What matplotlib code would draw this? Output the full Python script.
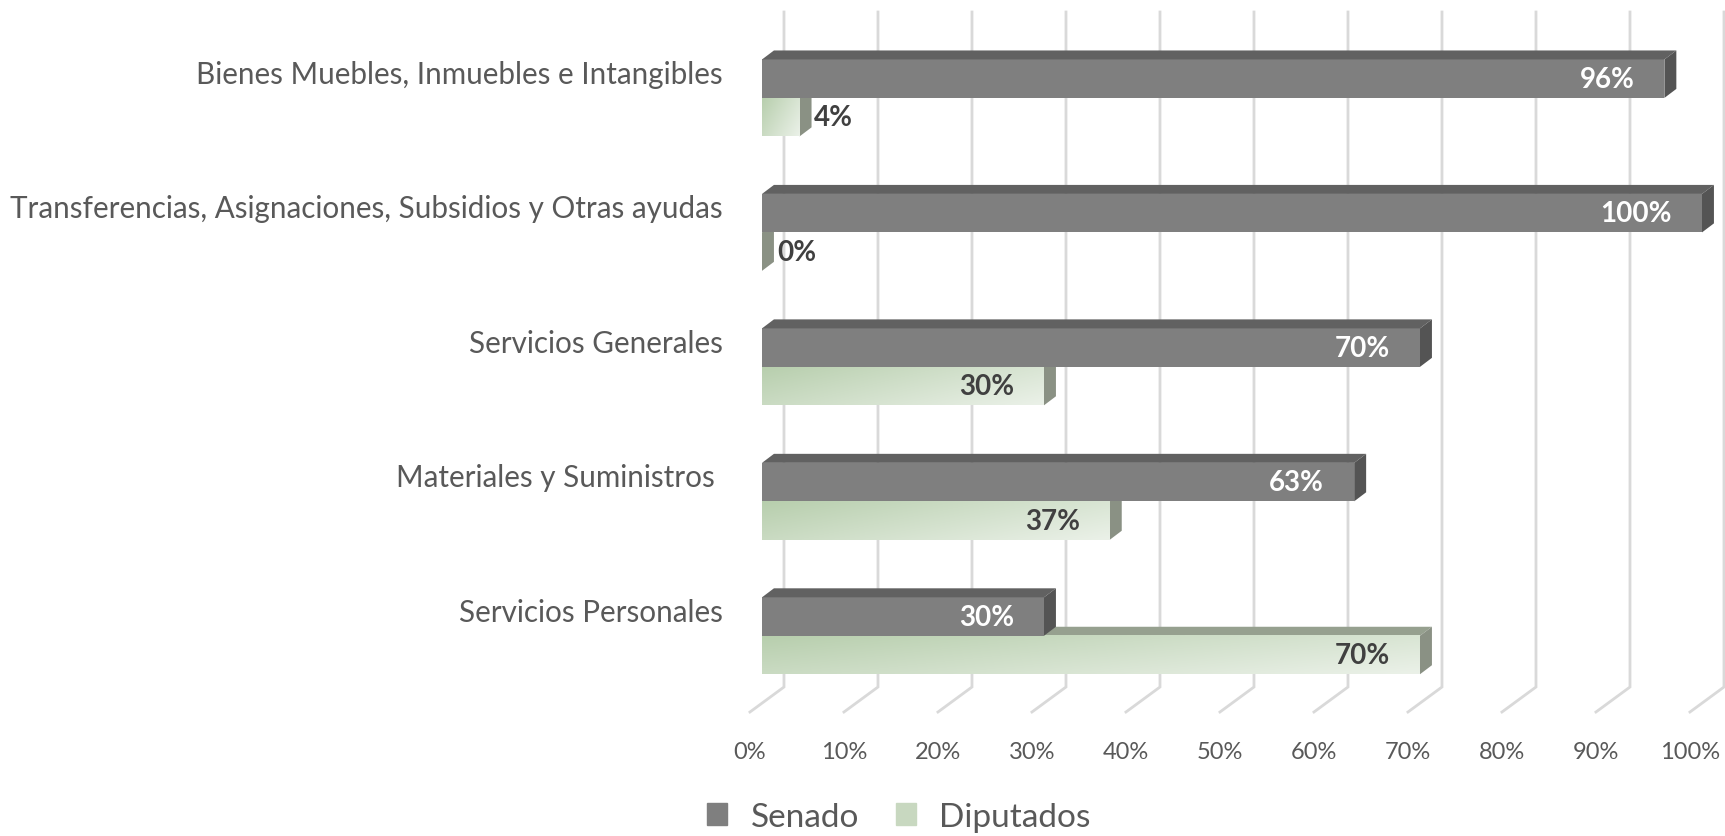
import numpy as np
import matplotlib
matplotlib.use("Agg")
import matplotlib.pyplot as plt
from matplotlib.patches import Patch

# data, bottom to top (as drawn)
categories = ["Servicios Personales", "Materiales y Suministros ", "Servicios Generales",
              "Transferencias, Asignaciones, Subsidios y Otras ayudas",
              "Bienes Muebles, Inmuebles e Intangibles"]
senado = [30, 63, 70, 100, 96]
diputados = [70, 37, 30, 0, 4]
ticks = [0, 10, 20, 30, 40, 50, 60, 70, 80, 90, 100]
tick_labels = [f"{t}%" for t in ticks]

FONT = "Lato"
TXT = "#595959"

# pseudo-3d depth offsets (data units); 9.4 px per % and 134.5 px per category
BX, BY = 1.27, 0.067        # bar depth
FX, FY = -1.28, -0.067      # floor front edge relative to bar front plane
WX, WY = 2.34, 0.119        # back wall relative to bar front plane
H = 0.286                   # bar thickness

fig = plt.figure(figsize=(17.25, 8.37), dpi=100)
ax = fig.add_axes([762 / 1725, (837 - 704) / 837, 940 / 1725, (704 - 29) / 837])
ax.set_xlim(0, 100)
ax.set_ylim(-0.5, 4.52)
ax.axis("off")

# back wall gridlines + floor lines
ybot = -0.5
for t, lab in zip(ticks, tick_labels):
    ax.plot([t + WX, t + WX, t + FX], [4.52 + WY, ybot + WY, ybot + FY],
            color="#d9d9d9", lw=2, clip_on=False, zorder=1, solid_joinstyle="miter")
    ax.text(t + FX, -0.857, lab, ha="center", va="center", fontsize=17,
            color=TXT, family=FONT)

# diagonal gradient for the Diputados front face (greener top-left, paler bottom-right)
gx = np.linspace(0, 1, 60)[None, :]
gy = np.linspace(0, 1, 20)[:, None]
g = np.clip(0.65 * gx + 0.35 * gy, 0, 1)[..., None]
c0 = np.array([0.72, 0.81, 0.68])
c1 = np.array([0.92, 0.945, 0.91])
grad = c0 + (c1 - c0) * g

def box(x0, x1, y0, y1, front, top, side, z):
    if front is not None:
        ax.fill([x0, x1, x1, x0], [y0, y0, y1, y1], color=front, lw=0, zorder=z, clip_on=False)
    ax.fill([x0, x1, x1 + BX, x0 + BX], [y1, y1, y1 + BY, y1 + BY], color=top, lw=0,
            zorder=z, clip_on=False)
    ax.fill([x1, x1 + BX, x1 + BX, x1], [y0, y0 + BY, y1 + BY, y1], color=side, lw=0,
            zorder=z, clip_on=False)

z = 2
for i in range(len(categories) - 1, -1, -1):
    c = i
    # Diputados (lower bar)
    d = diputados[i]
    box(0, d, c - H, c, None, "#96a08f", "#8a9184", z)
    if d > 0:
        ax.imshow(grad, extent=(0, d, c - H, c), aspect="auto", interpolation="bilinear",
                  origin="upper", zorder=z + 0.5, clip_on=False)
    # Senado (upper bar)
    s = senado[i]
    box(0, s, c, c + H, "#7f7f7f", "#616161", "#545454", z + 1)
    z += 2

    ax.text(s - 3.2, c + H / 2, f"{s}%", ha="right", va="center", fontsize=20,
            fontweight="bold", color="white", family=FONT, zorder=50)
    if d >= 10:
        ax.text(d - 3.2, c - H / 2, f"{d}%", ha="right", va="center", fontsize=20,
                fontweight="bold", color="#404040", family=FONT, zorder=50)
    else:
        ax.text(d + BX + 0.3, c - H / 2, f"{d}%", ha="left", va="center", fontsize=20,
                fontweight="bold", color="#404040", family=FONT, zorder=50)

    ax.text(-4.2, c + 0.18, categories[i], ha="right", va="center", fontsize=21.3,
            color=TXT, family=FONT)

ax.set_xlim(0, 100)
ax.set_ylim(-0.5, 4.52)

handles = [Patch(color="#7f7f7f", label="Senado"), Patch(color="#c8d8c0", label="Diputados")]
fig.legend(handles=handles, loc="center", bbox_to_anchor=(0.521, 0.023), ncol=2,
           frameon=False, prop={"family": FONT, "size": 24}, labelcolor=TXT,
           handlelength=0.6, handleheight=0.6, handletextpad=0.7, columnspacing=1.1)

fig.savefig("out.png", dpi=100)
